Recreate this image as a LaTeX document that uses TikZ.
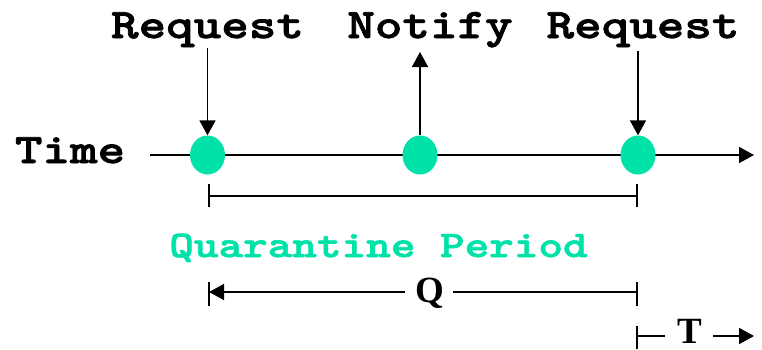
\documentclass[tikz,border=0pt]{standalone}
\usepackage{fontspec}
\newfontfamily\serifb{Liberation Serif}
\newfontfamily\ctt{lmmonolt10-bold}[Extension=.otf, FakeBold=1.8, FakeStretch=1.25]
\usetikzlibrary{arrows.meta,shapes.geometric}
\definecolor{qgreen}{RGB}{0,226,168}
\tikzset{
  lbl/.style={font=\fontsize{42}{46}\selectfont\ctt, anchor=base, inner sep=0pt},
  qlbl/.style={font=\fontsize{37.5}{40}\selectfont\ctt, text=qgreen, anchor=base, inner sep=0pt},
  sym/.style={font=\fontsize{37}{40}\selectfont\serifb\bfseries, anchor=base, inner sep=0pt},
  dot/.style={ellipse, fill=qgreen, minimum width=35pt, minimum height=39pt, inner sep=0pt},
  ln/.style={line width=1.6pt},
  tip/.style={ln, -{Triangle[length=15pt,width=16pt]}},
}
\begin{document}
\begin{tikzpicture}[x=1pt,y=-1pt]
\useasboundingbox (0,0) rectangle (762,349);
% time axis
\node[lbl] (time) at (70,163) {Time};
\coordinate (ax0) at (150,155);
\coordinate (ax1) at (754,155);
\draw[tip] (ax0) -- (ax1);
\node[dot] (d1) at (207.5,155) {};
\node[dot] (d2) at (420,155) {};
\node[dot] (d3) at (638,155) {};
% top labels
\node[lbl] (r1) at (207.5,38) {Request};
\node[lbl] (nt) at (430,38) {Notify};
\node[lbl] (r2) at (643,38) {Request};
\coordinate (a1) at (207.5,48);
\coordinate (a2) at (420,52);
\coordinate (a3) at (638,51);
\draw[tip] (a1) -- (d1.north);
\draw[tip] (d2.north) -- (a2);
\draw[tip] (a3) -- (d3.north);
% bracket
\coordinate (b0) at (209,196);
\coordinate (b1) at (637,196);
\draw[ln] (b0) -- (b1);
\draw[ln] ([yshift=-11pt]b0) -- ([yshift=12pt]b0);
\draw[ln] ([yshift=-11pt]b1) -- ([yshift=12pt]b1);
\node[qlbl] (qp) at (378.5,257) {Quarantine Period};
% Q
\node[sym] (q) at (430,302) {Q};
\coordinate (q0) at (209,292);
\coordinate (q1) at (637,292);
\coordinate (ql) at (405,292);
\coordinate (qr) at (453,292);
\draw[tip] (ql) -- (q0);
\draw[ln] (qr) -- (q1);
\draw[ln] ([yshift=-14pt]q0) -- ([yshift=10pt]q0);
\draw[ln] ([yshift=-14pt]q1) -- ([yshift=10pt]q1);
% T
\node[sym] (t) at (690,343) {T};
\coordinate (t0) at (637,336);
\coordinate (tl) at (665,336);
\coordinate (tr) at (713,336);
\coordinate (t1) at (754,336);
\draw[ln] (t0) -- (tl);
\draw[ln] ([yshift=-13pt]t0) -- ([yshift=10pt]t0);
\draw[tip] (tr) -- (t1);
\end{tikzpicture}
\end{document}
